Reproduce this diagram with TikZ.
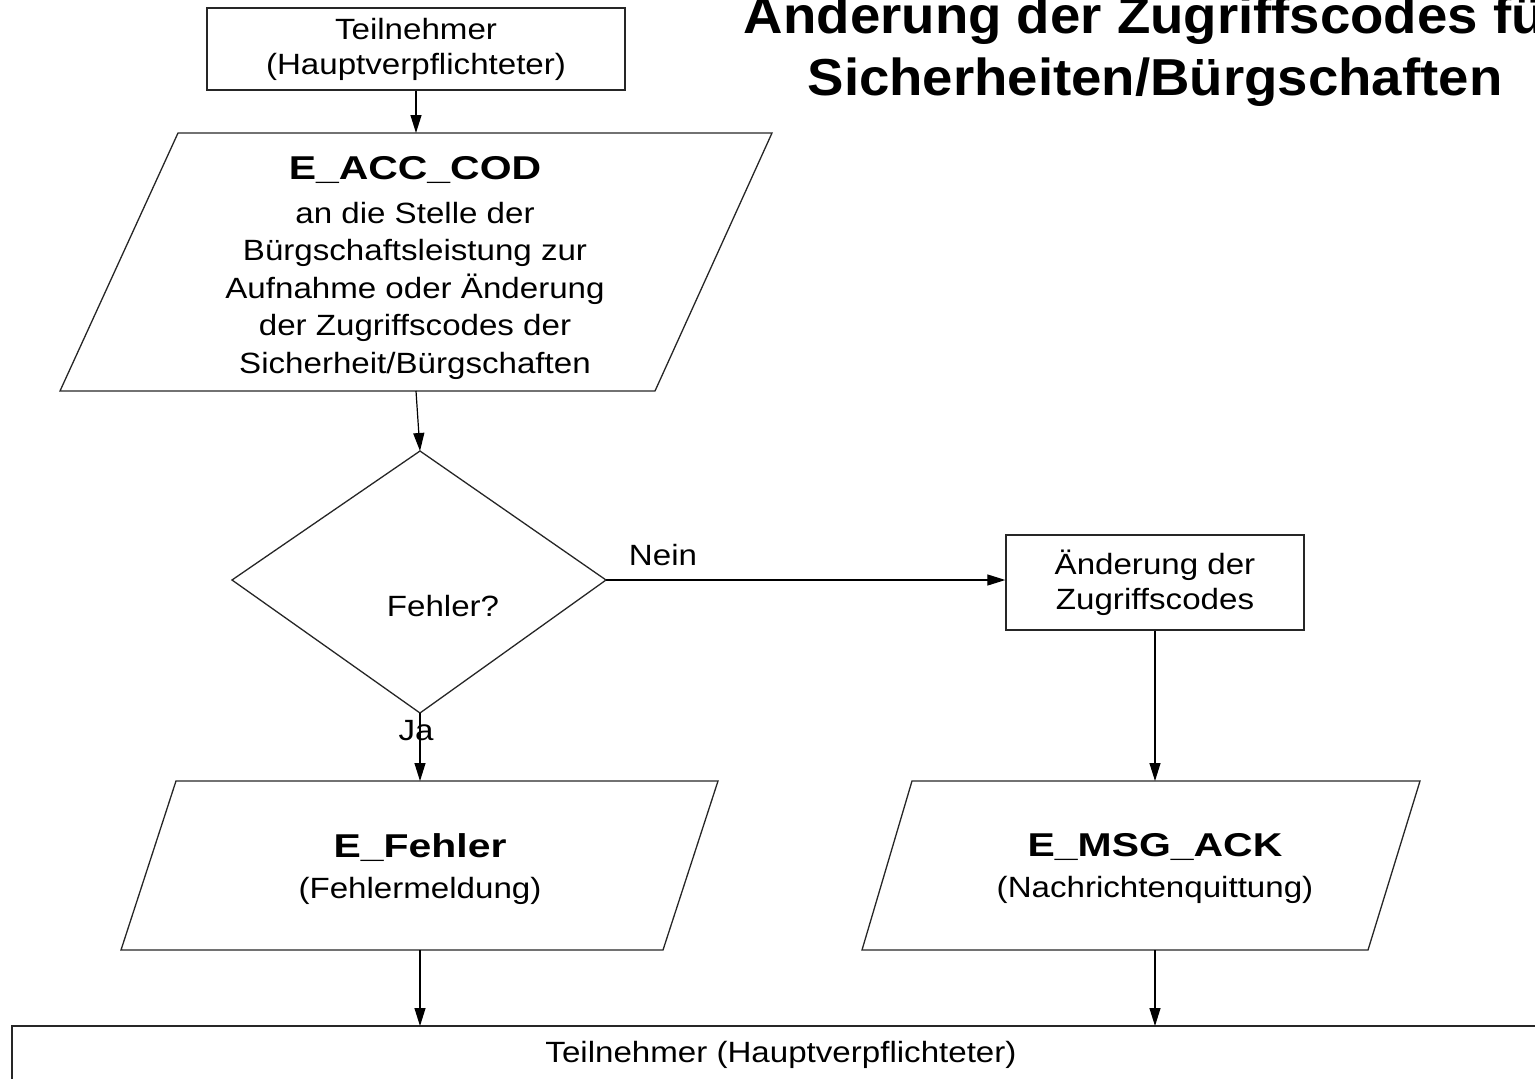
\documentclass[tikz,border=0pt]{standalone}
\usepackage{fontspec}
\setmainfont{Liberation Sans}
\newfontfamily\bodyf[FakeStretch=1.13]{Liberation Sans}
\newfontfamily\headf[FakeStretch=1.24]{Liberation Sans}
\newfontfamily\titlef[FakeStretch=1.05]{Liberation Sans}
\newcommand\mybody{\bodyf\fontsize{29.3}{35}\selectfont}
\newcommand\mysmall{\bodyf\fontsize{29.3}{37.5}\selectfont}
\newcommand\myhead{\headf\bfseries\fontsize{33}{37.5}\selectfont}
\newcommand\mytitle{\titlef\bfseries\fontsize{52}{62}\selectfont}
\usetikzlibrary{arrows.meta}
\begin{document}
\begin{tikzpicture}[x=1pt,y=-1pt,
  line/.style={line width=1.3pt, draw=black!85},
  conn/.style={line width=1.2pt, draw=black, -{Triangle[length=18pt,width=11pt]}},
  box/.style={line, rectangle, inner sep=0pt, align=center, font=\mybody},
  lbl/.style={font=\mybody, inner sep=0pt}
]
\useasboundingbox (0,0) rectangle (1535,1079);
\clip (0,0) rectangle (1535,1079);

% title
\node[anchor=base, font=\mytitle, inner sep=0pt] (title1) at (1155,33) {Änderung der Zugriffscodes für};
\node[anchor=base, font=\mytitle, inner sep=0pt] (title2) at (1155,95) {Sicherheiten/Bürgschaften};

% top box
\node[box, minimum width=418pt, minimum height=82pt] (tn) at (416,49) {Teilnehmer\\(Hauptverpflichteter)};

% parallelogram E_ACC_COD
\draw[line] (178,133) -- (772,133) -- (655,391) -- (60,391) -- cycle;
\coordinate (p1top) at (416,133);
\coordinate (p1bot) at (416,391);
\node[anchor=north, align=center, font=\mysmall, inner sep=0pt] (acc) at (415,156)
  {{\myhead E\_ACC\_COD}\\[6.5pt]an die Stelle der\\Bürgschaftsleistung zur\\Aufnahme oder Änderung\\der Zugriffscodes der\\Sicherheit/Bürgschaften};

% decision
\coordinate (dtop) at (420,451);
\coordinate (dright) at (606,580);
\coordinate (dbot) at (420,713);
\coordinate (dleft) at (232,580);
\draw[line] (dtop) -- (dright) -- (dbot) -- (dleft) -- cycle;
\node[lbl] (fehlerq) at (443,606) {Fehler?};

% right box
\node[box, minimum width=298pt, minimum height=95pt] (aend) at (1155,582.5) {Änderung der\\Zugriffscodes};

% parallelogram E_Fehler
\draw[line] (176,781) -- (718,781) -- (663,950) -- (121,950) -- cycle;
\coordinate (p2top) at (420,781);
\coordinate (p2bot) at (420,950);
\node[anchor=north, align=center, font=\mybody, inner sep=0pt] (ef) at (420,833)
  {{\myhead E\_Fehler}\\[6pt](Fehlermeldung)};

% parallelogram E_MSG_ACK
\draw[line] (912,781) -- (1420,781) -- (1368,950) -- (862,950) -- cycle;
\coordinate (p3top) at (1155,781);
\coordinate (p3bot) at (1155,950);
\node[anchor=north, align=center, font=\mybody, inner sep=0pt] (ack) at (1155,833)
  {{\myhead E\_MSG\_ACK}\\[6pt](Nachrichtenquittung)};

% bottom box
\draw[line] (12,1026) rectangle (1600,1130);
\coordinate (bl1) at (420,1026);
\coordinate (bl2) at (1155,1026);
\node[lbl] (tn2) at (781,1055) {Teilnehmer (Hauptverpflichteter)};

% connectors
\draw[conn] (tn.south) -- (p1top);
\draw[conn] (p1bot) -- (dtop);
\draw[conn] (dright) -- (dright -| aend.west);
\draw[conn] (dbot) -- (p2top);
\draw[conn] (aend.south) -- (p3top);
\draw[conn] (p2bot) -- (bl1);
\draw[conn] (p3bot) -- (bl2);

% labels
\node[lbl] (nein) at (663,555) {Nein};
\node[lbl] (ja) at (416,731) {Ja};
\end{tikzpicture}
\end{document}
